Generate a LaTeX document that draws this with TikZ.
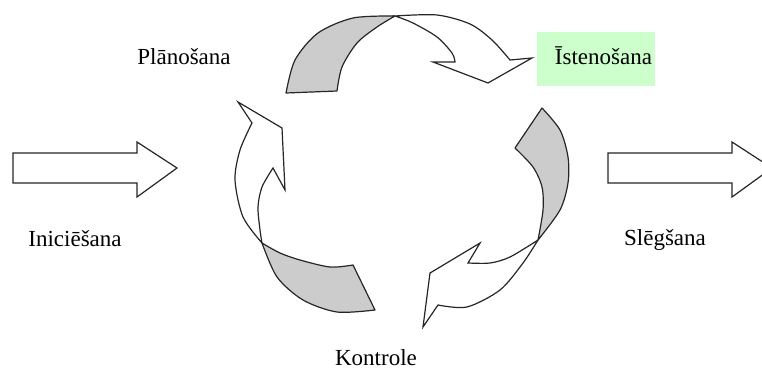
\documentclass[tikz,border=0pt]{standalone}
\usepackage{fontspec}
\setmainfont{Liberation Serif}
\usepackage{xcolor}
\usepackage{tikz}
\usetikzlibrary{positioning}
\definecolor{CycleBack}{HTML}{CCCCCC}
\definecolor{CycleLine}{HTML}{262626}
\definecolor{DoneGreen}{HTML}{CCFFCC}

\begin{document}
\begin{tikzpicture}[
    x=1pt, y=-1pt,
    phase/.style={anchor=base, inner sep=0pt, font=\fontsize{23}{26}\selectfont},
    backside/.style={fill=CycleBack, draw=CycleLine, line width=1.2pt, line join=round},
    frontside/.style={fill=white, draw=CycleLine, line width=1.2pt, line join=miter}
  ]
  \useasboundingbox (0,0) rectangle (762,371);
  \clip (0,0) rectangle (762,371);

  \draw[frontside] (13,153) -- (137,153) -- (137,142) -- (177,168) -- (137,197) -- (137,183) -- (13,183) -- cycle;
  \draw[frontside] (608,153) -- (732,153) -- (732,142) -- (772,168) -- (732,197) -- (732,183) -- (608,183) -- cycle;

  \draw[backside] plot[smooth] coordinates {(286,93) (295,60) (318,33) (353,18) (395,16)}
    -- plot[smooth] coordinates {(395,16) (377,27) (357,43) (342,67) (337,91)} -- cycle;
  \draw[frontside] plot[smooth] coordinates {(395,16) (437,15) (470,24) (492,40) (510,60)}
    -- (532,58) -- (488,83) -- (433,62) -- (455,62)
    -- plot[smooth] coordinates {(455,62) (452,53) (437,37) (413,23) (395,16)} -- cycle;

  \draw[backside] plot[smooth] coordinates {(542,108) (560,130) (568,157) (568,183) (560,210) (538,240)}
    -- plot[smooth] coordinates {(538,240) (543,210) (542,187) (533,167) (515,148)} -- cycle;
  \draw[frontside] plot[smooth] coordinates {(538,240) (510,257) (490,263) (468,263)}
    -- (480,243) -- (430,273) -- (423,327) -- (438,305)
    -- plot[smooth] coordinates {(438,305) (467,307) (500,290) (523,263) (538,240)} -- cycle;

  \draw[backside] plot[smooth] coordinates {(262,243) (277,277) (303,300) (337,312) (375,310)}
    -- (353,265) -- plot[smooth] coordinates {(353,265) (330,267) (300,260) (280,253) (262,243)} -- cycle;
  \draw[frontside] plot[smooth] coordinates {(262,243) (243,217) (235,180) (240,150) (252,123)}
    -- (238,102) -- (282,128) -- (285,190) -- (273,168)
    -- plot[smooth] coordinates {(273,168) (262,187) (258,207) (260,230) (262,243)} -- cycle;

  \node[phase] (planosana) at (184,65) {Plānošana};
  \node[phase, anchor=center, fill=DoneGreen, text width=112pt, align=right, inner xsep=3pt,
    text height=17pt, text depth=5pt, minimum height=54pt] (istenosana) at (596,59) {Īstenošana};
  \node[phase] (iniciesana) at (75,246) {Iniciēšana};
  \node[phase] (slegsana) at (665,245) {Slēgšana};
  \node[phase] (kontrole) at (376,365) {Kontrole};
\end{tikzpicture}
\end{document}
